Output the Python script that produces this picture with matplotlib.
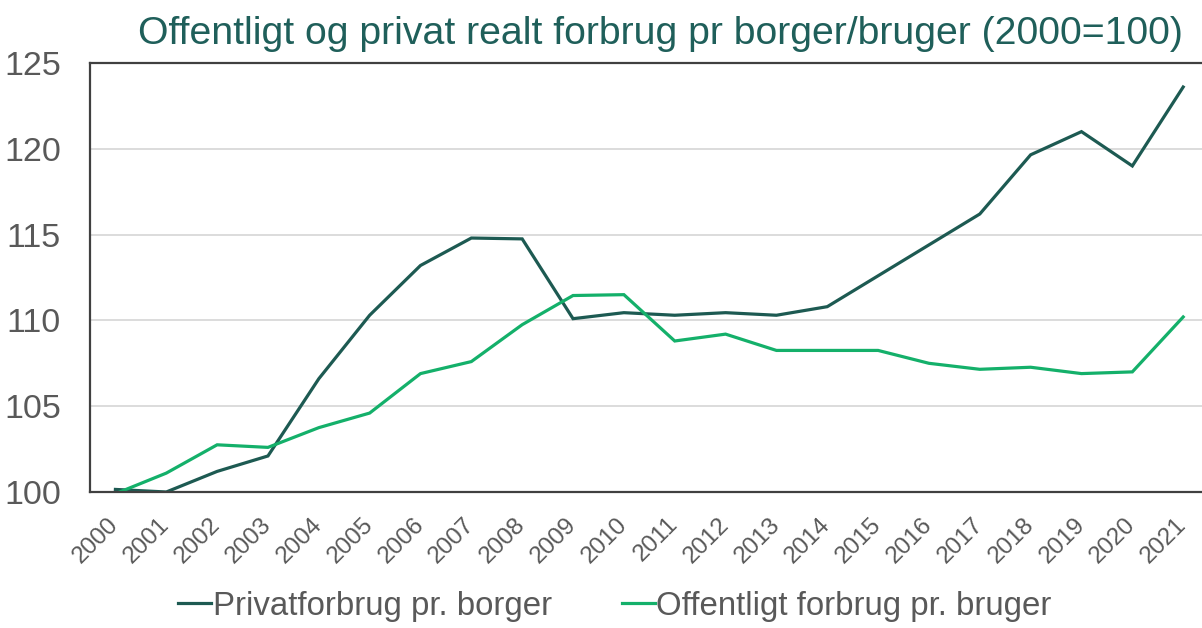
import matplotlib
matplotlib.use("Agg")
import matplotlib.pyplot as plt
import numpy as np

years = [str(y) for y in range(2000, 2022)]
privat = [100.15, 100.0, 101.2, 102.1, 106.6, 110.3, 113.2, 114.8, 114.75, 110.1, 110.45,
          110.3, 110.45, 110.3, 110.8, 112.6, 114.4, 116.2, 119.65, 121.0, 119.0, 123.6]
offentlig = [99.9, 101.1, 102.75, 102.6, 103.75, 104.6, 106.9, 107.6, 109.75, 111.45, 111.5,
             108.8, 109.2, 108.25, 108.25, 108.25, 107.5, 107.15, 107.27, 106.9, 107.0, 110.2]
yticks = [100, 105, 110, 115, 120, 125]

dark = "#1d5a52"
green = "#14b06a"
grey_txt = "#595959"

plt.rcParams['font.family'] = ['Liberation Sans', 'DejaVu Sans']

fig = plt.figure(figsize=(12.02, 6.28), dpi=100)
ax = fig.add_axes([90 / 1202, 1 - 492 / 628, 1118.6 / 1202, 429 / 628])

x = np.arange(len(years))
ax.plot(x, privat, color=dark, lw=2.3, label="Privatforbrug pr. borger", solid_joinstyle="miter")
ax.plot(x, offentlig, color=green, lw=2.3, label="Offentligt forbrug pr. bruger", solid_joinstyle="miter")

ax.set_xlim(-0.5, len(years) - 0.5)
ax.set_ylim(100, 125)
ax.set_yticks(yticks)
ax.set_yticklabels([str(v) for v in yticks], fontsize=24.5, color=grey_txt)
ax.set_xticks(x)
ax.set_xticklabels(years, rotation=45, ha="right", va="center", rotation_mode="anchor",
                   fontsize=17.5, color=grey_txt)
ax.tick_params(axis="both", length=0)
ax.tick_params(axis="y", pad=21)
ax.tick_params(axis="x", pad=21)
ax.grid(axis="y", color="#d9d9d9", lw=1.3)
ax.set_axisbelow(True)
for s in ("left", "top", "bottom", "right"):
    ax.spines[s].set_color("#404040")
    ax.spines[s].set_linewidth(1.6)

fig.text(138 / 1202, 1 - 34 / 628, "Offentligt og privat realt forbrug pr borger/bruger (2000=100)",
         fontsize=28.3, color="#1f5f5a", ha="left", va="center")

leg = fig.legend(loc="center", bbox_to_anchor=(615 / 1202, 1 - 606 / 628), ncol=2, frameon=False,
                 fontsize=23.8, handlelength=1.0, handletextpad=0.05, columnspacing=2.1)
for t in leg.get_texts():
    t.set_color(grey_txt)

fig.savefig("out.png", dpi=100)
